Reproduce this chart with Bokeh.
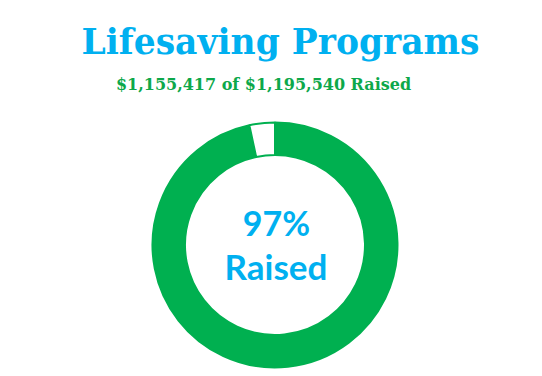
from bokeh.plotting import figure
from bokeh.models import ColumnDataSource, Range1d
from bokeh.core.properties import value
from bokeh.embed import file_html
from bokeh.resources import INLINE
import math

# ---- data ----
title_text = "Lifesaving Programs"
raised = 1155417
goal = 1195540
segments = ["Raised", "Remaining"]
segment_values = [raised, goal - raised]
segment_colors = ["#00B050", "#FFFFFF"]
center_word = "Raised"

W, H = 542, 376
p = figure(width=W, height=H, output_backend="svg", toolbar_location=None,
           x_range=Range1d(0, W), y_range=Range1d(0, H), min_border=0)
p.axis.visible = False
p.grid.visible = False
p.outline_line_color = None
p.background_fill_color = "white"
p.border_fill_color = "white"

# donut
total = sum(segment_values)
starts, ends = [], []
cum = 0.0
for v in segment_values:
    starts.append(math.pi / 2 - cum / total * 2 * math.pi)
    cum += v
    ends.append(math.pi / 2 - cum / total * 2 * math.pi)
src = ColumnDataSource(dict(seg=segments, start=starts, end=ends, color=segment_colors))
cx, cy = 274.5, H - 244.5
p.annular_wedge(x=cx, y=cy, inner_radius=90, outer_radius=122.5,
                start_angle="start", end_angle="end", direction="clock",
                fill_color="color", line_color="#00B050", line_width=2, source=src)

def fmt(v):
    return "${:,}".format(v)

subtitle = f"{fmt(raised)} of {fmt(goal)} Raised"
pct = f"{round(raised / goal * 100)}%"

p.text(x=[280], y=[H - 52], text=[title_text], text_align="center",
       text_baseline="alphabetic", text_font=value("DejaVu Serif"),
       text_font_style="bold", text_font_size="34.5px", text_color="#00B0F0",
       y_offset=-11)
p.text(x=[263], y=[H - 89], text=[subtitle], text_align="center",
       text_baseline="alphabetic", text_font=value("DejaVu Serif"),
       text_font_style="bold", text_font_size="16px", text_color="#0DA84A",
       y_offset=-5)
p.text(x=[276], y=[H - 235], text=[pct], text_align="center",
       text_baseline="alphabetic", text_font=value("Lato"),
       text_font_style="bold", text_font_size="34px", text_color="#00B0F0",
       y_offset=-13)
p.text(x=[275.5], y=[H - 279], text=[center_word], text_align="center",
       text_baseline="alphabetic", text_font=value("Lato"),
       text_font_style="bold", text_font_size="35px", text_color="#00B0F0",
       y_offset=-14)

open("out.html", "w").write(file_html(p, INLINE))
